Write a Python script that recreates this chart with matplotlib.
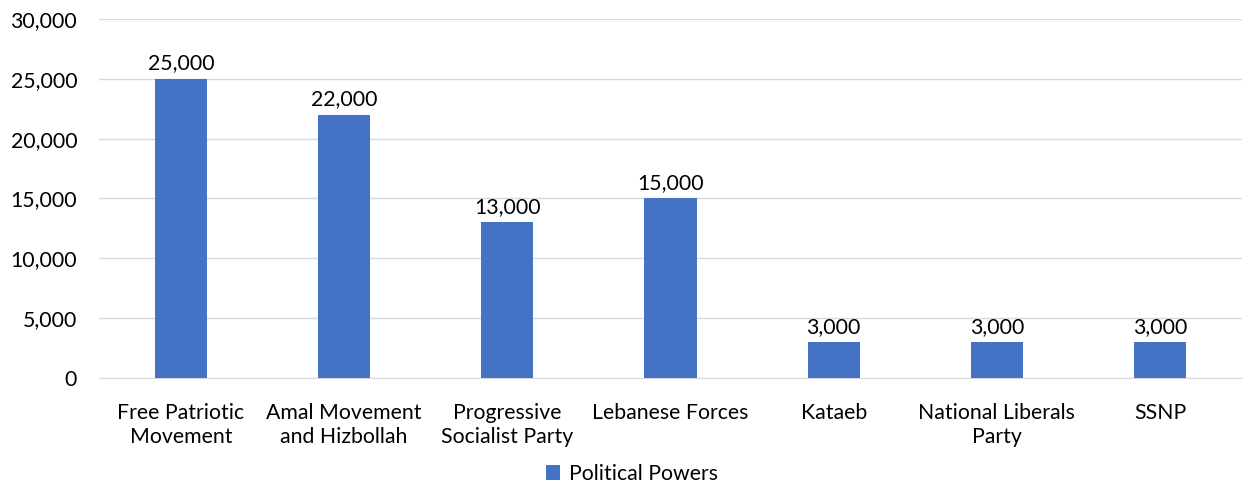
import matplotlib
matplotlib.use("Agg")
import matplotlib.pyplot as plt
from matplotlib.ticker import FuncFormatter

# ── Data ──────────────────────────────────────────────────────────────────────
categories = ["Free Patriotic\nMovement", "Amal Movement\nand Hizbollah",
              "Progressive\nSocialist Party", "Lebanese Forces", "Kataeb",
              "National Liberals\nParty", "SSNP"]
values = [25000, 22000, 13000, 15000, 3000, 3000, 3000]
series_name = "Political Powers"

plt.rcParams["font.family"] = ["Lato", "DejaVu Sans"]
FS = 15.3

fig = plt.figure(figsize=(12.43, 4.83), dpi=100)
ax = fig.add_axes([0.080, 0.2174, 0.9188, 0.7433])

x = range(len(categories))
ax.bar(x, values, width=0.32, color="#4472C4", label=series_name, zorder=3)

for xi, v in zip(x, values):
    ax.text(xi, v + 450, f"{v:,}", ha="center", va="bottom", fontsize=FS, color="#000000")

ax.set_xlim(-0.5, len(categories) - 0.5)
ax.set_ylim(0, 30000)
ax.set_yticks(range(0, 30001, 5000))
ax.yaxis.set_major_formatter(FuncFormatter(lambda v, p: f"{int(v):,}"))
ax.set_xticks(list(x))
ax.set_xticklabels(categories, fontsize=FS, linespacing=1.25)
ax.tick_params(axis="y", labelsize=FS, length=0, pad=16)
ax.tick_params(axis="x", length=0, pad=18)

ax.grid(axis="y", color="#D9D9D9", lw=1, zorder=0)
for s in ["top", "right", "left"]:
    ax.spines[s].set_visible(False)
ax.spines["bottom"].set_color("#D9D9D9")

fig.legend(loc="center", bbox_to_anchor=(632 / 1243, 1 - 474 / 483), frameon=False,
           fontsize=FS, handlelength=0.65, handleheight=0.65, handletextpad=0.4)

plt.savefig("out.png", dpi=100)
